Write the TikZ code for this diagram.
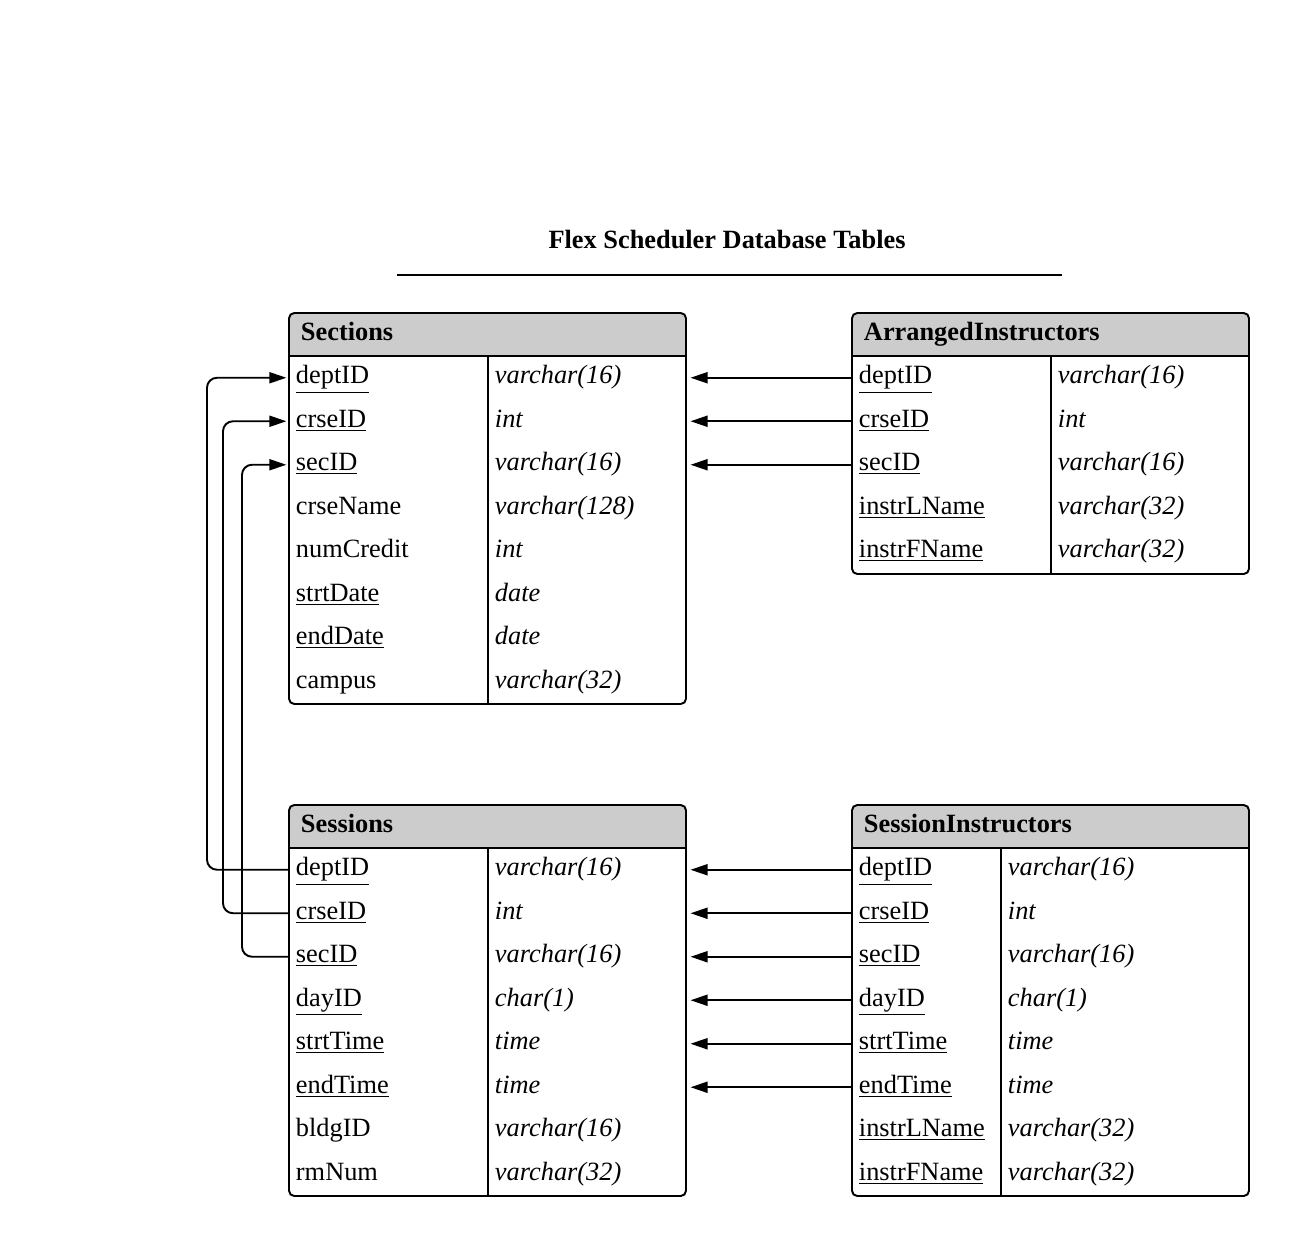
\documentclass[tikz,border=0pt]{standalone}
\usepackage{fontspec}
\setmainfont{Liberation Serif}
\usetikzlibrary{arrows.meta}
\definecolor{hdrgray}{HTML}{CCCCCC}

\begin{document}
\begin{tikzpicture}[
    x=0.02cm, y=-0.02cm,
    line width=1.1pt,
    every node/.style={font=\fontsize{15}{18}\selectfont},
    title/.style={font=\fontsize{15}{18}\selectfont\bfseries},
    tbl/.style={draw, rounded corners=3pt},
    head/.style={anchor=west, inner xsep=0.22cm, text height=11pt, text depth=4pt,
                 font=\fontsize{15}{18}\selectfont\bfseries},
    cell/.style={anchor=west, inner xsep=0.12cm, inner ysep=0pt,
                 text height=11pt, text depth=4pt,
                 minimum height=0.87cm, text width=#1, align=left},
    typ/.style={cell=#1, font=\fontsize{15}{18}\selectfont\itshape},
    arr/.style={-{Triangle[length=0.34cm,width=0.22cm]}, shorten >=1.5pt},
    link/.style={arr, rounded corners=0.2cm}
  ]
    \useasboundingbox (0,0) rectangle (1293,1240);

    % title
    \node[title] (title) at (727,240) {Flex Scheduler Database Tables};
    \draw (397,275) -- (1062,275);

    % Sections
    \begin{scope}
      \clip[rounded corners=3pt] (289,313) rectangle (686,704);
      \fill[hdrgray] (289,313) rectangle (686,356);
    \end{scope}
    \draw[tbl] (289,313) rectangle (686,704);
    \draw (289,356) -- (686,356);
    \draw (488,356) -- (488,704);
    \node[head] (sections) at (289,334) {Sections};
    \foreach \f/\t [count=\i] in {\underline{deptID}/varchar(16), \underline{crseID}/int,
        \underline{secID}/varchar(16), crseName/varchar(128), numCredit/int,
        \underline{strtDate}/date, \underline{endDate}/date, campus/varchar(32)}{
      \node[cell=3.74cm] (sections-\i)   at (289,{334.25+43.5*\i}) {\f};
      \node[typ=3.72cm]  (sections-\i-t) at (488,{334.25+43.5*\i}) {\t};
    }

    % ArrangedInstructors
    \begin{scope}
      \clip[rounded corners=3pt] (852,313) rectangle (1249,574);
      \fill[hdrgray] (852,313) rectangle (1249,356);
    \end{scope}
    \draw[tbl] (852,313) rectangle (1249,574);
    \draw (852,356) -- (1249,356);
    \draw (1051,356) -- (1051,574);
    \node[head] (arranged) at (852,334) {ArrangedInstructors};
    \foreach \f/\t [count=\i] in {\underline{deptID}/varchar(16), \underline{crseID}/int,
        \underline{secID}/varchar(16), \underline{instrLName}/varchar(32),
        \underline{instrFName}/varchar(32)}{
      \node[cell=3.74cm] (arranged-\i)   at (852,{334.25+43.5*\i}) {\f};
      \node[typ=3.72cm]  (arranged-\i-t) at (1051,{334.25+43.5*\i}) {\t};
    }

    % Sessions
    \begin{scope}
      \clip[rounded corners=3pt] (289,805) rectangle (686,1196);
      \fill[hdrgray] (289,805) rectangle (686,848);
    \end{scope}
    \draw[tbl] (289,805) rectangle (686,1196);
    \draw (289,848) -- (686,848);
    \draw (488,848) -- (488,1196);
    \node[head] (sessions) at (289,826) {Sessions};
    \foreach \f/\t [count=\i] in {\underline{deptID}/varchar(16), \underline{crseID}/int,
        \underline{secID}/varchar(16), \underline{dayID}/char(1), \underline{strtTime}/time,
        \underline{endTime}/time, bldgID/varchar(16), rmNum/varchar(32)}{
      \node[cell=3.74cm] (sessions-\i)   at (289,{826.25+43.5*\i}) {\f};
      \node[typ=3.72cm]  (sessions-\i-t) at (488,{826.25+43.5*\i}) {\t};
    }

    % SessionInstructors
    \begin{scope}
      \clip[rounded corners=3pt] (852,805) rectangle (1249,1196);
      \fill[hdrgray] (852,805) rectangle (1249,848);
    \end{scope}
    \draw[tbl] (852,805) rectangle (1249,1196);
    \draw (852,848) -- (1249,848);
    \draw (1001,848) -- (1001,1196);
    \node[head] (sesinstr) at (852,826) {SessionInstructors};
    \foreach \f/\t [count=\i] in {\underline{deptID}/varchar(16), \underline{crseID}/int,
        \underline{secID}/varchar(16), \underline{dayID}/char(1), \underline{strtTime}/time,
        \underline{endTime}/time, \underline{instrLName}/varchar(32),
        \underline{instrFName}/varchar(32)}{
      \node[cell=2.74cm] (sesinstr-\i)   at (852,{826.25+43.5*\i}) {\f};
      \node[typ=4.72cm]  (sesinstr-\i-t) at (1001,{826.25+43.5*\i}) {\t};
    }

    % foreign keys
    \foreach \i in {1,2,3}
      \draw[arr] (arranged-\i.west) -- (sections-\i-t.east);
    \foreach \i in {1,...,6}
      \draw[arr] (sesinstr-\i.west) -- (sessions-\i-t.east);
    \draw[link] (sessions-1.west) -- ++(-82,0) |- (sections-1.west);
    \draw[link] (sessions-2.west) -- ++(-66,0) |- (sections-2.west);
    \draw[link] (sessions-3.west) -- ++(-47,0) |- (sections-3.west);
  \end{tikzpicture}
\end{document}
